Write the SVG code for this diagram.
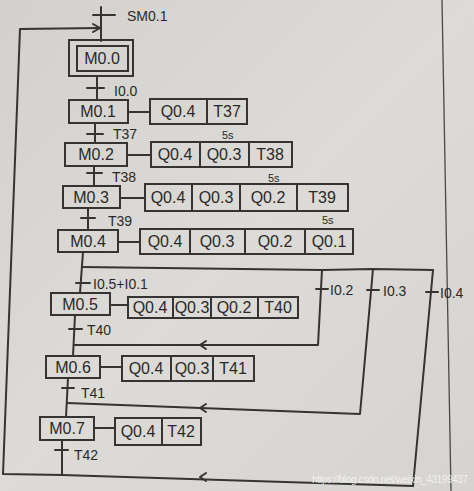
<svg xmlns="http://www.w3.org/2000/svg" width="474" height="491" viewBox="0 0 474 491">
<defs>
<linearGradient id="bg" x1="0" y1="0" x2="1" y2="1">
<stop offset="0" stop-color="#d3d1ce"/>
<stop offset="0.5" stop-color="#dddbd7"/>
<stop offset="1" stop-color="#d6d4d0"/>
</linearGradient>
<style>
.ln{fill:none;stroke:#353433;stroke-width:2;stroke-linecap:round;stroke-linejoin:round}
.bx{fill:none;stroke:#353433;stroke-width:2}
.t{font-family:"Liberation Sans","DejaVu Sans",sans-serif;font-size:16px;fill:#2a2928}
.c{text-anchor:middle}
.s{font-size:14px}
.xs{font-size:11px}
</style>
</defs>
<rect width="474" height="491" fill="url(#bg)"/>
<line x1="442" y1="0" x2="451" y2="491" stroke="#4a4947" stroke-width="1.3"/>

<g id="connectors" class="ln">
<path d="M101,7 V41"/><path d="M93,15 H115"/>
<path d="M413,486 L62,475 L3,474 L20,29 L100,28"/>
<path d="M93,24 L100,28 L93,32"/>
<path d="M206,473 L200,477 L206,481"/>
<path d="M97,76 V100"/><path d="M87,88 H104"/>
<path d="M128,112 H150"/>
<path d="M95,123 V143"/><path d="M87,134 H103"/>
<path d="M127,155 H151"/>
<path d="M94,166 V186"/><path d="M87,173 H102"/>
<path d="M120,198 H145"/>
<path d="M88,208 V230"/><path d="M81,218 H95"/>
<path d="M118,242 H140"/>
<path d="M83,252 L80,293"/><path d="M76,283 H90"/>
<path d="M82,267 L322,270 L373,269 L433,270"/>
<path d="M322,270 L318,345 L74,345"/><path d="M316,289 H328"/>
<path d="M206,341 L200,345 L206,349"/>
<path d="M373,269 L360,414 L67,403"/><path d="M367,290 H379"/>
<path d="M206,404 L200,408 L206,412"/>
<path d="M433,270 L413,486"/><path d="M426,292 H438"/>
<path d="M110,305 H128"/>
<path d="M75,315 L73,356"/><path d="M69,329 H82"/>
<path d="M100,367 H122"/>
<path d="M68,378 L66,417"/><path d="M62,388 H74"/>
<path d="M94,428 H115"/>
<path d="M62,440 V475"/><path d="M55,450 H68"/>
</g>

<g id="labels">
<text class="t s" x="127" y="21">SM0.1</text>
<text class="t s" x="114" y="96">I0.0</text>
<text class="t s" x="113" y="139">T37</text>
<text class="t s" x="112" y="182">T38</text>
<text class="t s" x="108" y="226">T39</text>
<text class="t s" x="93" y="289">I0.5+I0.1</text>
<text class="t s" x="330" y="295">I0.2</text>
<text class="t s" x="383" y="296">I0.3</text>
<text class="t s" x="440" y="298">I0.4</text>
<text class="t s" x="87" y="335">T40</text>
<text class="t s" x="81" y="398">T41</text>
<text class="t s" x="74" y="460">T42</text>
<text class="t xs" x="222" y="139">5s</text>
<text class="t xs" x="268" y="182">5s</text>
<text class="t xs" x="322" y="224">5s</text>
</g>

<g id="M0.0"><rect class="bx" x="69" y="40" width="64" height="36"/><rect class="bx" x="77" y="46" width="51" height="25"/><text class="t c" x="102" y="64">M0.0</text></g>
<g id="M0.1"><rect class="bx" x="69" y="100" width="59" height="23"/><text class="t c" x="98" y="117">M0.1</text></g>
<g id="M0.1-actions"><rect class="bx" x="150" y="99" width="57" height="25"/><rect class="bx" x="207" y="99" width="40" height="25"/><text class="t c" x="178" y="117">Q0.4</text><text class="t c" x="227" y="117">T37</text></g>
<g id="M0.2"><rect class="bx" x="65" y="143" width="62" height="23"/><text class="t c" x="96" y="160">M0.2</text></g>
<g id="M0.2-actions"><rect class="bx" x="151" y="142" width="49" height="25"/><rect class="bx" x="200" y="142" width="49" height="25"/><rect class="bx" x="249" y="142" width="43" height="25"/><text class="t c" x="175" y="160">Q0.4</text><text class="t c" x="224" y="160">Q0.3</text><text class="t c" x="270" y="160">T38</text></g>
<g id="M0.3"><rect class="bx" x="63" y="186" width="57" height="22"/><text class="t c" x="91" y="203">M0.3</text></g>
<g id="M0.3-actions"><rect class="bx" x="145" y="184" width="47" height="27"/><rect class="bx" x="192" y="184" width="48" height="27"/><rect class="bx" x="240" y="184" width="57" height="27"/><rect class="bx" x="297" y="184" width="51" height="27"/><text class="t c" x="168" y="203">Q0.4</text><text class="t c" x="216" y="203">Q0.3</text><text class="t c" x="268" y="203">Q0.2</text><text class="t c" x="322" y="203">T39</text></g>
<g id="M0.4"><rect class="bx" x="58" y="230" width="60" height="22"/><text class="t c" x="88" y="247">M0.4</text></g>
<g id="M0.4-actions"><rect class="bx" x="140" y="229" width="50" height="25"/><rect class="bx" x="190" y="229" width="55" height="25"/><rect class="bx" x="245" y="229" width="60" height="25"/><rect class="bx" x="305" y="229" width="48" height="25"/><text class="t c" x="165" y="247">Q0.4</text><text class="t c" x="217" y="247">Q0.3</text><text class="t c" x="275" y="247">Q0.2</text><text class="t c" x="329" y="247">Q0.1</text></g>
<g id="M0.5"><rect class="bx" x="51" y="293" width="59" height="22"/><text class="t c" x="80" y="310">M0.5</text></g>
<g id="M0.5-actions"><rect class="bx" x="128" y="297" width="45" height="21"/><rect class="bx" x="173" y="297" width="38" height="21"/><rect class="bx" x="211" y="297" width="47" height="21"/><rect class="bx" x="258" y="297" width="40" height="21"/><text class="t c" x="150" y="313">Q0.4</text><text class="t c" x="192" y="313">Q0.3</text><text class="t c" x="234" y="313">Q0.2</text><text class="t c" x="278" y="313">T40</text></g>
<g id="M0.6"><rect class="bx" x="46" y="356" width="54" height="22"/><text class="t c" x="73" y="373">M0.6</text></g>
<g id="M0.6-actions"><rect class="bx" x="122" y="356" width="49" height="25"/><rect class="bx" x="171" y="356" width="42" height="25"/><rect class="bx" x="213" y="356" width="41" height="25"/><text class="t c" x="146" y="374">Q0.4</text><text class="t c" x="192" y="374">Q0.3</text><text class="t c" x="233" y="374">T41</text></g>
<g id="M0.7"><rect class="bx" x="40" y="417" width="54" height="23"/><text class="t c" x="67" y="434">M0.7</text></g>
<g id="M0.7-actions"><rect class="bx" x="115" y="418" width="47" height="27"/><rect class="bx" x="162" y="418" width="39" height="27"/><text class="t c" x="138" y="437">Q0.4</text><text class="t c" x="181" y="437">T42</text></g>

<text x="312" y="483" font-family="Liberation Sans, sans-serif" font-size="10" fill="#f4f4f2" fill-opacity="0.9" textLength="156">https://blog.csdn.net/weixin_43199437</text>
</svg>
